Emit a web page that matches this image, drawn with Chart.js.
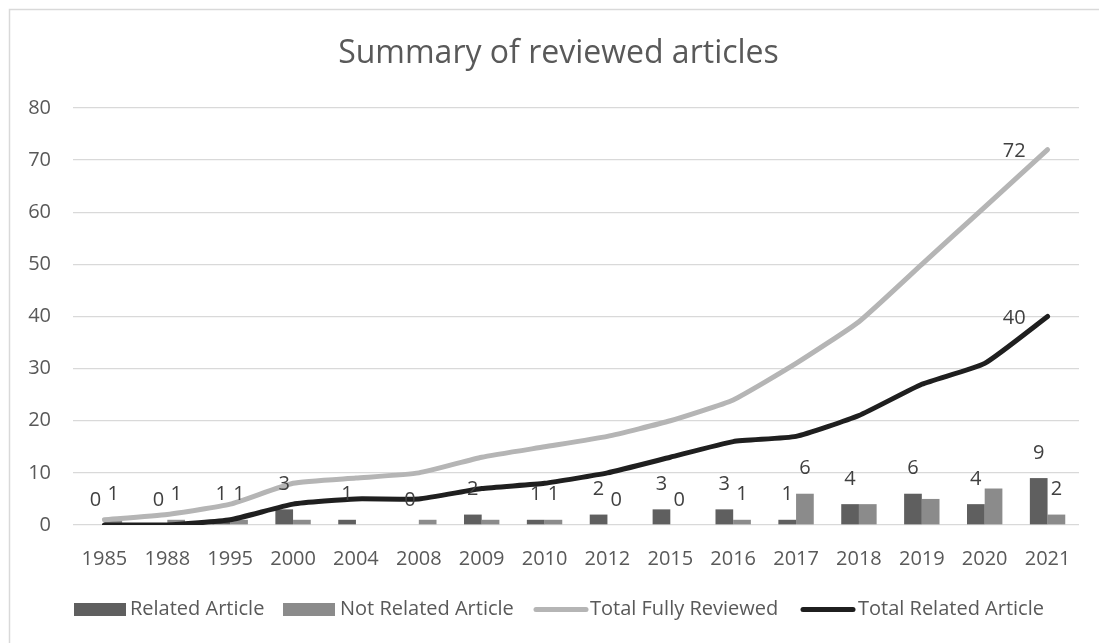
<!DOCTYPE html>
<html>
<head>
<meta charset="utf-8">
<script src="https://cdn.jsdelivr.net/npm/chart.js@4/dist/chart.umd.min.js"></script>
<style>
  html, body { margin: 0; padding: 0; background: #ffffff; }
  #wrap { width: 1099px; height: 643px; position: relative; }
</style>
</head>
<body>
<div id="wrap"><canvas id="c" width="1099" height="643"></canvas></div>
<script>
const categories = ['1985','1988','1995','2000','2004','2008','2009','2010','2012','2015','2016','2017','2018','2019','2020','2021'];
const relatedArticle = [0,0,1,3,1,0,2,1,2,3,3,1,4,6,4,9];
const notRelatedArticle = [1,1,1,1,0,1,1,1,0,0,1,6,4,5,7,2];
const totalFullyReviewed = [1,2,4,8,9,10,13,15,17,20,24,31,39,50,61,72];
const totalRelatedArticle = [0,0,1,4,5,5,7,8,10,13,16,17,21,27,31,40];
const yTickLabels = ['0','10','20','30','40','50','60','70','80'];

const relatedLabels = ['0','0','1','3','1','0','2','1','2','3','3','1','4','6','4','9'];
const notRelatedLabels = ['1','1','1','','','','','1','0','0','1','6','','','','2'];
const totalFullyLabels = ['','','','','','','','','','','','','','','','72'];
const totalRelatedLabels = ['','','','','','','','','','','','','','','','40'];

const seriesNames = ['Related Article','Not Related Article','Total Fully Reviewed','Total Related Article'];
const chartTitle = 'Summary of reviewed articles';

const FONT = "'Open Sans', 'Noto Sans', sans-serif";
const TEXT = '#595959';
const C_DARK = '#5f5f5f', C_MID = '#8b8b8b', C_LIGHT = '#b5b5b5', C_BLACK = '#1f1f1f';

Chart.defaults.font.family = FONT;
Chart.defaults.font.size = 20;
Chart.defaults.color = TEXT;

const labelSets = [relatedLabels, notRelatedLabels, totalFullyLabels, totalRelatedLabels];

const decorPlugin = {
  id: 'decor',
  beforeDraw(chart) {
    const ctx = chart.ctx;
    ctx.save();
    ctx.fillStyle = '#ffffff';
    ctx.fillRect(0, 0, chart.width, chart.height);
    ctx.strokeStyle = '#d9d9d9';
    ctx.lineWidth = 1.5;
    ctx.strokeRect(9.5, 9.5, 1300, 800);
    ctx.restore();
  },
  afterDatasetsDraw(chart) {
    const ctx = chart.ctx;
    ctx.save();
    ctx.font = '20px ' + FONT;
    ctx.fillStyle = '#404040';
    ctx.textBaseline = 'middle';
    chart.data.datasets.forEach((ds, di) => {
      const meta = chart.getDatasetMeta(di);
      const labs = labelSets[di];
      meta.data.forEach((el, i) => {
        const t = labs[i];
        if (!t) return;
        if (ds.type === 'line') {
          ctx.textAlign = 'right';
          ctx.fillText(t, el.x - 22, el.y + 2);
        } else {
          ctx.textAlign = 'center';
          ctx.fillText(t, el.x, el.y - 25);
        }
      });
    });
    ctx.restore();
  },
  afterDraw(chart) {
    const ctx = chart.ctx;
    ctx.save();
    // title
    ctx.font = '32px ' + FONT;
    ctx.fillStyle = TEXT;
    ctx.textAlign = 'center';
    ctx.textBaseline = 'alphabetic';
    ctx.fillText(chartTitle, 558.5, 63);
    // legend
    ctx.font = '20px ' + FONT;
    ctx.textAlign = 'left';
    ctx.textBaseline = 'middle';
    const ly = 609.5;
    ctx.fillStyle = C_DARK;
    ctx.fillRect(74, ly - 6.5, 52, 13);
    ctx.fillStyle = TEXT;
    ctx.fillText(seriesNames[0], 130, ly);
    ctx.fillStyle = C_MID;
    ctx.fillRect(283, ly - 6.5, 52, 13);
    ctx.fillStyle = TEXT;
    ctx.fillText(seriesNames[1], 340, ly);
    ctx.lineCap = 'round';
    ctx.lineWidth = 5;
    ctx.strokeStyle = C_LIGHT;
    ctx.beginPath(); ctx.moveTo(536, ly); ctx.lineTo(586, ly); ctx.stroke();
    ctx.fillText(seriesNames[2], 590, ly);
    ctx.strokeStyle = C_BLACK;
    ctx.beginPath(); ctx.moveTo(803, ly); ctx.lineTo(853, ly); ctx.stroke();
    ctx.fillText(seriesNames[3], 858, ly);
    ctx.restore();
  }
};

new Chart(document.getElementById('c'), {
  data: {
    labels: categories,
    datasets: [
      { type: 'bar', label: seriesNames[0], data: relatedArticle, backgroundColor: C_DARK,
        categoryPercentage: 0.563, barPercentage: 1.0, order: 2 },
      { type: 'bar', label: seriesNames[1], data: notRelatedArticle, backgroundColor: C_MID,
        categoryPercentage: 0.563, barPercentage: 1.0, order: 3 },
      { type: 'line', label: seriesNames[2], data: totalFullyReviewed, borderColor: C_LIGHT,
        borderWidth: 5, pointRadius: 0, tension: 0.15, borderCapStyle: 'round', borderJoinStyle: 'round', order: 1 },
      { type: 'line', label: seriesNames[3], data: totalRelatedArticle, borderColor: C_BLACK,
        borderWidth: 5, pointRadius: 0, tension: 0.15, borderCapStyle: 'round', borderJoinStyle: 'round', order: 0 }
    ]
  },
  options: {
    responsive: false,
    animation: false,
    events: [],
    layout: { padding: { left: 10, right: 20, top: 108, bottom: 58 } },
    plugins: { legend: { display: false }, title: { display: false }, tooltip: { enabled: false } },
    scales: {
      x: {
        type: 'category',
        offset: true,
        grid: { display: false },
        border: { display: false },
        ticks: { padding: 14, maxRotation: 0, autoSkip: false, color: TEXT, font: { size: 20 } },
        afterFit(scale) { scale.height = 60; }
      },
      y: {
        min: 0, max: 80,
        grid: { color: '#d9d9d9', lineWidth: 1.3, drawTicks: false },
        border: { display: false },
        ticks: { stepSize: 10, padding: 22, color: TEXT, font: { size: 20 },
                 callback: (v, i) => yTickLabels[i] },
        afterFit(scale) { scale.width = 63; }
      }
    }
  },
  plugins: [decorPlugin]
});
</script>
</body>
</html>
